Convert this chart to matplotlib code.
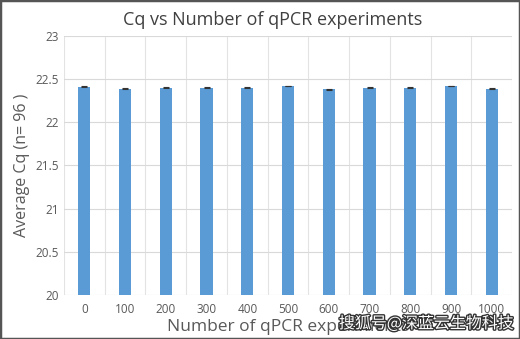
import matplotlib
matplotlib.use("Agg")
import matplotlib.pyplot as plt
import matplotlib.patheffects as pe
import numpy as np

categories = ["0", "100", "200", "300", "400", "500", "600", "700", "800", "900", "1000"]
avg_cq = [22.41, 22.39, 22.40, 22.40, 22.40, 22.42, 22.38, 22.40, 22.40, 22.42, 22.39]
err = [0.005, 0.005, 0.005, 0.005, 0.005, 0.005, 0.005, 0.005, 0.005, 0.005, 0.005]
yticks = [20, 20.5, 21, 21.5, 22, 22.5, 23]

plt.rcParams['font.family'] = ['Open Sans', 'DejaVu Sans']

fig = plt.figure(figsize=(5.2, 3.39), dpi=100)
ax = fig.add_axes([0.123, 0.130, 0.862, 0.764])
x = np.arange(len(categories))
ax.bar(x, avg_cq, width=0.3, color="#5B9BD5", zorder=3,
       yerr=err, error_kw=dict(ecolor="#333333", capsize=2, elinewidth=0.8, capthick=0.8))
ax.set_ylim(20, 23)
ax.set_xlim(-0.5, len(categories) - 0.5)
ax.set_yticks(yticks)
ax.set_yticklabels([f"{v:g}" for v in yticks])
ax.set_xticks(x)
ax.set_xticklabels(categories)
ax.set_xticks(np.arange(-0.5, len(categories), 1.0), minor=True)
ax.grid(axis="y", which="major", color="#d9d9d9", linewidth=0.8, zorder=0)
ax.grid(axis="x", which="minor", color="#e3e3e3", linewidth=0.8, zorder=0)
ax.grid(axis="x", which="major", visible=False)
for s in ax.spines.values():
    s.set_visible(False)
ax.tick_params(axis="both", which="both", length=0, labelsize=8.5, colors="#595959")
ax.tick_params(axis="x", pad=6)
fig.text(273 / 520, 1 - 20 / 339, "Cq vs Number of qPCR experiments", fontsize=13,
         color="#404040", ha="center", va="center")
ax.set_xlabel("Number of qPCR experiments", fontsize=12.5, color="#595959", labelpad=2)
ax.set_ylabel("Average Cq (n= 96 )", fontsize=11.5, color="#595959", labelpad=4)

fig.text(0.82, 0.045, "搜狐号@深蓝云生物科技", fontsize=11.5, color="white",
         family=['Noto Sans CJK SC', 'DejaVu Sans'], ha="center", va="center",
         path_effects=[pe.withStroke(linewidth=2, foreground="#333333")])

fig.patches.append(plt.Rectangle((0, 0), 1, 1, transform=fig.transFigure,
                                 fill=False, edgecolor="#555555", linewidth=2.5))
fig.savefig("out.png", dpi=100)
